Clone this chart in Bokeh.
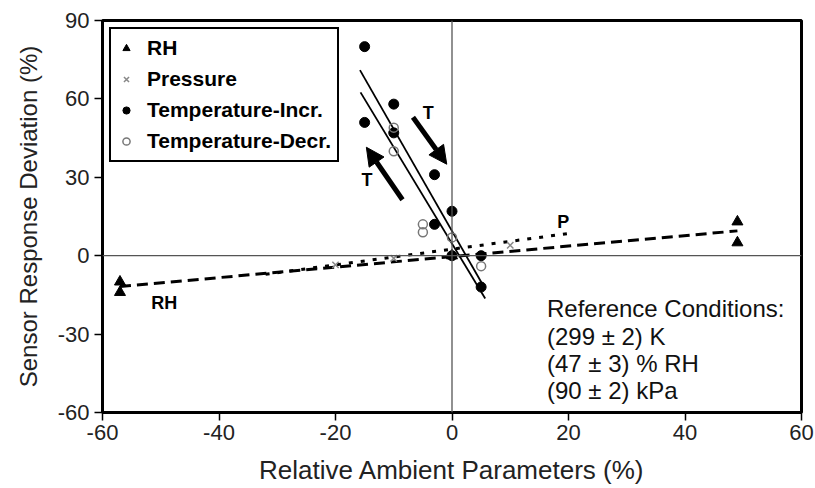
from bokeh.plotting import figure
from bokeh.models import Range1d, FixedTicker, Span, Label, Arrow, NormalHead, Title
from bokeh.embed import file_html
from bokeh.resources import INLINE

# ---- data ----
rh_x = [-57, -57, 0, 49, 49]
rh_y = [-10, -14, 0, 13, 5]

pres_x = [-20, -10, 0, 10]
pres_y = [-3.5, -1, 0, 4]

tinc_x = [-15, -15, -10, -10, -3, -3, 0, 0, 5, 5]
tinc_y = [80, 51, 58, 47, 31, 12, 17, 0, 0, -12]

tdec_x = [-10, -10, -5, -5, 0, 5]
tdec_y = [49, 40, 12, 9, 7, -4]

# trend lines
rh_fit_x = [-57, 49]
rh_fit_y = [-11.8, 9.5]
pres_fit_x = [-32, 20]
pres_fit_y = [-7.1, 8.5]
tinc_fit_x = [-15.8, 5.5]
tinc_fit_y = [71, -12]
tdec_fit_x = [-15.7, 5.7]
tdec_fit_y = [62.5, -16.4]

x_ticks = [-60, -40, -20, 0, 20, 40, 60]
y_ticks = [-60, -30, 0, 30, 60, 90]

ref_lines = ["Reference Conditions:", "(299 \u00b1 2) K", "(47 \u00b1 3) % RH", "(90 \u00b1 2) kPa"]

FONT = "Liberation Sans"

p = figure(width=815, height=488, output_backend="svg", toolbar_location=None,
           x_range=Range1d(-60, 60), y_range=Range1d(-60, 90),
           min_border_left=101, min_border_right=14, min_border_top=20, min_border_bottom=76,
           background_fill_color="white", border_fill_color="white")

p.xgrid.visible = False
p.ygrid.visible = False
p.outline_line_color = "black"
p.outline_line_width = 3

for ax, ticks in ((p.xaxis[0], x_ticks), (p.yaxis[0], y_ticks)):
    ax.ticker = FixedTicker(ticks=ticks)
    ax.major_label_overrides = {t: str(t) for t in ticks}
    ax.axis_line_color = "black"
    ax.axis_line_width = 3
    ax.major_tick_out = 8
    ax.major_tick_in = 0
    ax.major_tick_line_color = "black"
    ax.major_tick_line_width = 1.5
    ax.minor_tick_line_color = None
    ax.major_label_text_font = FONT
    ax.major_label_text_font_size = "22px"
    ax.major_label_text_color = "#222222"
    ax.axis_label_text_font = FONT
    ax.axis_label_text_font_style = "normal"
    ax.axis_label_text_color = "#222222"

p.xaxis.axis_label = "Relative Ambient Parameters (%)"
p.xaxis.axis_label_text_font_size = "26px"
p.xaxis.major_label_standoff = 4
p.xaxis.axis_label_standoff = 12
p.yaxis.major_label_standoff = 5

# y-axis title placed as a side title
p.add_layout(Title(text="Sensor Response Deviation (%)", align="center", offset=24, standoff=25,
                   text_font=FONT, text_font_size="24px", text_font_style="normal",
                   text_color="#222222"), "left")

p.add_layout(Span(location=0, dimension="height", line_color="#555555", line_width=1.3))
p.add_layout(Span(location=0, dimension="width", line_color="#555555", line_width=1.3))

# trend lines
p.line(rh_fit_x, rh_fit_y, line_color="black", line_width=3, line_dash="11 6")
p.line(pres_fit_x, pres_fit_y, line_color="black", line_width=3, line_dash="4 8")
p.line(tinc_fit_x, tinc_fit_y, line_color="black", line_width=1.8)
p.line(tdec_fit_x, tdec_fit_y, line_color="black", line_width=1.8)

# markers
p.scatter(rh_x, rh_y, marker="triangle", size=11, color="black", legend_label="RH")
p.scatter(pres_x, pres_y, marker="x", size=9, line_color="#888888", line_width=1.5,
          legend_label="Pressure")
p.scatter(tinc_x, tinc_y, marker="circle", size=10, color="black", legend_label="Temperature-Incr.")
p.scatter(tdec_x, tdec_y, marker="circle", size=9, fill_color="white", fill_alpha=0,
          line_color="#777777", line_width=1.5, legend_label="Temperature-Decr.")

# arrows
p.add_layout(Arrow(x_start=-6.7, y_start=53, x_end=-0.9, y_end=35, line_width=5, line_color="black",
                   end=NormalHead(size=18, fill_color="black", line_color="black")))
p.add_layout(Arrow(x_start=-8.5, y_start=21.4, x_end=-14.7, y_end=41.5, line_width=5, line_color="black",
                   end=NormalHead(size=18, fill_color="black", line_color="black")))

for txt, x, y in (("T", -4.06, 54.7), ("T", -14.6, 29.1), ("P", 19.1, 12.8), ("RH", -49.4, -18.1)):
    p.add_layout(Label(x=x, y=y, text=txt, text_font=FONT, text_font_size="18px",
                       text_font_style="bold", text_color="black",
                       text_align="center", text_baseline="middle"))

ref_y = [-20.3, -31.0, -41.3, -51.5]
for txt, y in zip(ref_lines, ref_y):
    p.add_layout(Label(x=16.3, y=y, text=txt, text_font=FONT, text_font_size="24px",
                       text_color="#111111", text_align="left", text_baseline="middle"))

lg = p.legend[0]
lg.location = (7, 250)
lg.border_line_color = "black"
lg.border_line_width = 2.5
lg.border_line_alpha = 1
lg.background_fill_color = "white"
lg.background_fill_alpha = 1
lg.label_text_font = FONT
lg.label_text_font_style = "bold"
lg.label_text_font_size = "21px"
lg.label_text_color = "black"
lg.glyph_width = 18
lg.glyph_height = 26
lg.label_height = 26
lg.spacing = 5
lg.padding = 6
lg.margin = 0
lg.label_standoff = 12

open("out.html", "w").write(file_html(p, INLINE))
